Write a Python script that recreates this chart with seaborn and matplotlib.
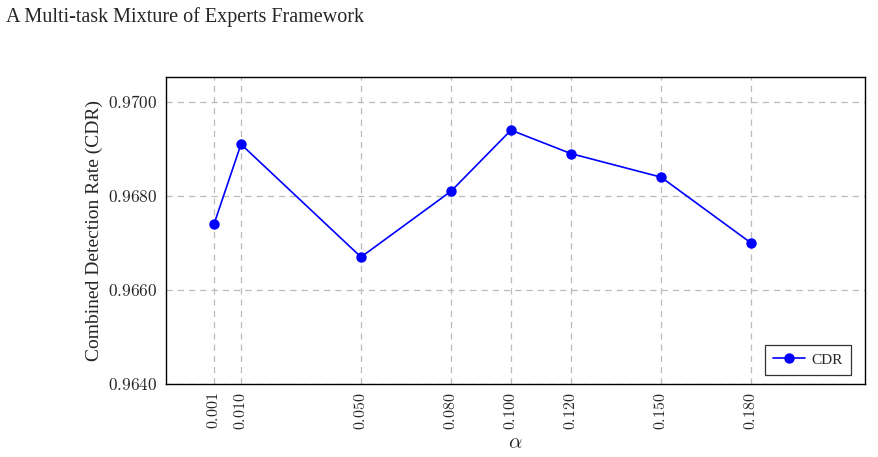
import matplotlib
matplotlib.use("Agg")
import matplotlib.pyplot as plt
import seaborn as sns
import pandas as pd

# alpha values and combined detection rate
alpha = [0.001, 0.010, 0.050, 0.080, 0.100, 0.120, 0.150, 0.180]
cdr = [0.9674, 0.9691, 0.9667, 0.9681, 0.9694, 0.9689, 0.9684, 0.9670]
y_ticks = [0.9640, 0.9660, 0.9680, 0.9700]

df = pd.DataFrame({"alpha": alpha, "CDR": cdr})

sns.set_theme(style="white")
plt.rcParams["font.family"] = ["Liberation Serif", "DejaVu Serif"]
plt.rcParams["mathtext.fontset"] = "cm"

fig = plt.figure(figsize=(8.79, 4.57), dpi=100)
ax = fig.add_axes([166 / 879, 1 - 384 / 457, 699 / 879, 307 / 457])

sns.lineplot(data=df, x="alpha", y="CDR", ax=ax, color="#0000ff", marker="o",
             markersize=7.5, markeredgewidth=0, linewidth=1.2, label="CDR")

ax.set_xlim(-0.015, 0.218)
ax.set_ylim(0.9640, 0.97053)
ax.set_xticks(alpha)
ax.set_xticklabels([f"${a:.3f}$" for a in alpha], rotation=90, fontsize=11.5)
ax.set_yticks(y_ticks)
ax.set_yticklabels([f"${v:.4f}$" for v in y_ticks], fontsize=12.5)
ax.tick_params(axis="both", length=0, pad=6)

ax.grid(True, linestyle=(0, (5, 4)), color="#bbbbbb", linewidth=0.9)
for s in ax.spines.values():
    s.set_color("black")
    s.set_linewidth(1.0)

ax.set_xlabel(r"$\alpha$", fontsize=15, labelpad=3)
ax.set_ylabel("Combined Detection Rate (CDR)", fontsize=14, labelpad=4)

leg = ax.legend(loc="lower right", fontsize=11, frameon=True, fancybox=False,
                bbox_to_anchor=(851 / 879, 1 - 375 / 457), bbox_transform=fig.transFigure,
                borderaxespad=0, handlelength=2.1, borderpad=0.55, handletextpad=0.4)
leg.get_frame().set_edgecolor("black")
leg.get_frame().set_linewidth(0.9)

fig.text(6 / 879, 1 - 17 / 457, "A Multi-task Mixture of Experts Framework",
         fontsize=14.5, va="center", ha="left")

fig.savefig("out.png", dpi=100)
